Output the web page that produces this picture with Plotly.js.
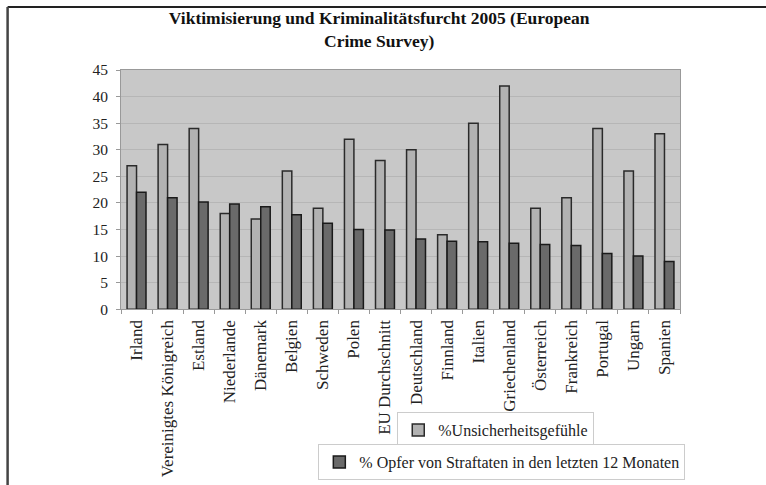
<!DOCTYPE html>
<html>
<head>
<meta charset="utf-8">
<script src="https://cdn.plot.ly/plotly-3.0.1.min.js"></script>
<style>html,body{margin:0;padding:0;background:#fff;}#chart{width:766px;height:485px;}</style>
</head>
<body>
<div id="chart"></div>
<script>
const categories = ["Irland","Vereinigtes Königreich","Estland","Niederlande","Dänemark","Belgien","Schweden","Polen","EU Durchschnitt","Deutschland","Finnland","Italien","Griechenland","Österreich","Frankreich","Portugal","Ungarn","Spanien"];
const unsicherheit = [27,31,34,18,17,26,19,32,28,30,14,35,42,19,21,34,26,33];
const opfer = [22,21,20.2,19.8,19.3,17.8,16.2,15,14.9,13.2,12.8,12.7,12.4,12.2,12,10.5,10,9];
const seriesNames = ["%Unsicherheitsgefühle","% Opfer von Straftaten in den letzten 12 Monaten"];
const yTicks = [0,5,10,15,20,25,30,35,40,45];

const serif = "Liberation Serif, Times New Roman, serif";
// paper region (pixels) and plot area within it
const PL = 120.5, PW = 559.5, PAPER_T = 70, PAPER_B = 485;
const PAPER_H = PAPER_B - PAPER_T;
const PLOT_BOTTOM = 309.3;
const px2x = p => (p - PL) / PW;
const py2y = p => (PAPER_B - p) / PAPER_H;

const traces = [
  {type:"bar", x:categories, y:unsicherheit, name:seriesNames[0], legend:"legend", showlegend:true,
   marker:{color:"#b2b2b2", line:{color:"#2a2a2a", width:1.5}}},
  {type:"bar", x:categories, y:opfer, name:seriesNames[1], legend:"legend2", showlegend:true,
   marker:{color:"#6a6a6a", line:{color:"#1a1a1a", width:1.5}}}
];
const layout = {
  width:766, height:485, showlegend:true,
  margin:{l:PL, r:766-PL-PW, t:PAPER_T, b:485-PAPER_B, pad:0},
  paper_bgcolor:"#ffffff", plot_bgcolor:"#c8c8c8",
  font:{family:serif, size:16, color:"#333"},
  title:{text:"<b>Viktimisierung und Kriminalitätsfurcht 2005 (European<br>Crime Survey)</b>",
         font:{family:serif, size:17.5, color:"#111"}, x:0.495, xanchor:"center", y:0.95, yanchor:"top"},
  barmode:"group", bargap:0.39, bargroupgap:0,
  xaxis:{type:"category", tickangle:-90, ticks:"outside", ticklen:4, tickcolor:"#999",
         tickson:"boundaries", showline:true, linecolor:"#999", linewidth:1, mirror:true,
         tickfont:{family:serif, size:17, color:"#222"}, showgrid:false, ticklabelstandoff:3},
  yaxis:{domain:[py2y(PLOT_BOTTOM), 1], range:[0,45], tickvals:yTicks, ticks:"outside", ticklen:4, tickcolor:"#999",
         showline:true, linecolor:"#999", linewidth:1, mirror:true,
         gridcolor:"#b6b6b6", gridwidth:1, zeroline:false, ticklabelstandoff:5,
         tickfont:{family:serif, size:15.5, color:"#222"}},
  legend:{x:px2x(397), y:py2y(430), xanchor:"left", yanchor:"middle", bgcolor:"#fff",
          bordercolor:"#cccccc", borderwidth:1, font:{family:serif, size:16, color:"#222"},
          itemwidth:30},
  legend2:{x:px2x(318), y:py2y(462), xanchor:"left", yanchor:"middle", bgcolor:"#fff",
          bordercolor:"#cccccc", borderwidth:1, font:{family:serif, size:16, color:"#222"},
          itemwidth:30},
  shapes:[
    {type:"line", xref:"paper", yref:"paper", x0:px2x(7), x1:px2x(770),
     y0:py2y(7), y1:py2y(7), line:{color:"#222", width:2}},
    {type:"line", xref:"paper", yref:"paper", x0:px2x(7), x1:px2x(7),
     y0:py2y(7), y1:py2y(490), line:{color:"#444", width:2.5}}
  ]
};
Plotly.newPlot("chart", traces, layout, {displayModeBar:false, staticPlot:true});
</script>
</body>
</html>
